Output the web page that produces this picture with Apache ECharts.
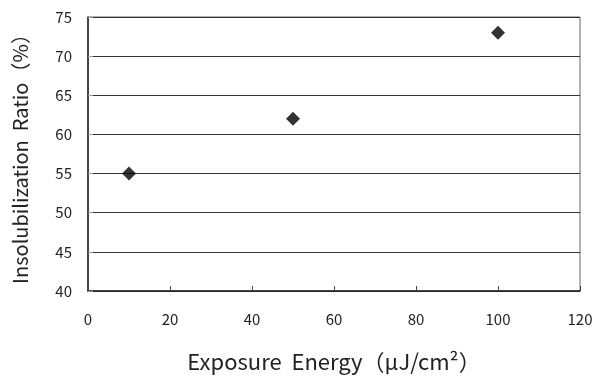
<!DOCTYPE html>
<html>
<head>
<meta charset="utf-8">
<script src="https://cdn.jsdelivr.net/npm/echarts@6/dist/echarts.min.js"></script>
<style>
  html, body { margin: 0; padding: 0; background: #fff; }
  #chart { width: 598px; height: 378px; }
</style>
</head>
<body>
<div id="chart"></div>
<script>
var energy = [10, 50, 100];
var ratio = [55, 62, 73];

var font = '"Noto Sans CJK JP", "Noto Sans", sans-serif';

var myChart = echarts.init(document.getElementById('chart'));

var option = {
    animation: false,
    backgroundColor: '#fff',
    grid: {
        left: 88,
        right: 18,
        top: 17,
        bottom: 85,
        show: true,
        borderColor: '#666',
        borderWidth: 1
    },
    xAxis: {
        type: 'value',
        min: 0,
        max: 120,
        interval: 20,
        name: 'Exposure  Energy（μJ/cm²）',
        nameLocation: 'middle',
        nameGap: 60,
        nameTextStyle: { fontFamily: font, fontSize: 22, color: '#222' },
        axisLine: { show: true, lineStyle: { color: '#222', width: 1.5 } },
        axisTick: { show: true, inside: true, length: 5, lineStyle: { color: '#444' } },
        axisLabel: { fontFamily: font, fontSize: 15, color: '#222', margin: 21 },
        splitLine: { show: false }
    },
    yAxis: {
        type: 'value',
        min: 40,
        max: 75,
        interval: 5,
        name: 'Insolubilization  Ratio（%）',
        nameLocation: 'middle',
        nameGap: 58,
        nameTextStyle: { fontFamily: font, fontSize: 20, color: '#222' },
        axisLine: { show: true, lineStyle: { color: '#222', width: 1.5 } },
        axisTick: { show: true, inside: true, length: 5, lineStyle: { color: '#999' } },
        axisLabel: { fontFamily: font, fontSize: 15, color: '#222', margin: 16 },
        splitLine: { show: true, lineStyle: { color: '#333', width: 1 } }
    },
    series: [
        {
            type: 'scatter',
            symbol: 'diamond',
            symbolSize: 14,
            itemStyle: { color: '#000' },
            data: energy.map(function (x, i) { return [x, ratio[i]]; })
        }
    ]
};

myChart.setOption(option);
</script>
</body>
</html>
